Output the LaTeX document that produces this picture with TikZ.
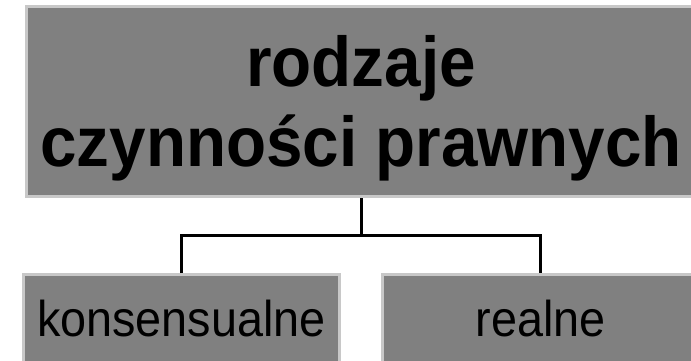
\documentclass[tikz,border=0pt]{standalone}
\usepackage{fontspec}
\setmainfont{Liberation Sans}[FakeStretch=0.93]
\definecolor{boxgray}{HTML}{808080}
\definecolor{rimgray}{HTML}{C8C8C8}
\tikzset{
	kind/.style={draw=rimgray, line width=3pt, fill=boxgray, inner sep=0pt},
	branch/.style={line width=3pt, black},
}
\begin{document}
\begin{tikzpicture}[x=1pt,y=-1pt]
			\def \bigfont{\fontsize{70.5}{80}\selectfont\bfseries}
			\def \smallfont{\fontsize{50.3}{58}\selectfont}
			\useasboundingbox (0,0) rectangle (691,361);
			\clip (0,0) rectangle (691,361);
			\node[kind, minimum width=669, minimum height=190] (rodz) at (361,101.5) {};
			\node[align=center, font=\bigfont, inner sep=0pt] (rodztxt) at ([yshift=-6.5pt]rodz.center) {rodzaje\\czynności prawnych};
			\node[kind, minimum width=316, minimum height=88, font=\smallfont] (kons) at (181.5,318.5) {konsensualne};
			\node[kind, minimum width=316, minimum height=88, font=\smallfont] (real) at (540.5,318.5) {realne};
			\coordinate (fork) at (361,235);
			\draw[branch] (rodz.south) -- (fork);
			\draw[branch] (kons.north) |- (fork) -| (real.north);
		\end{tikzpicture}
\end{document}
